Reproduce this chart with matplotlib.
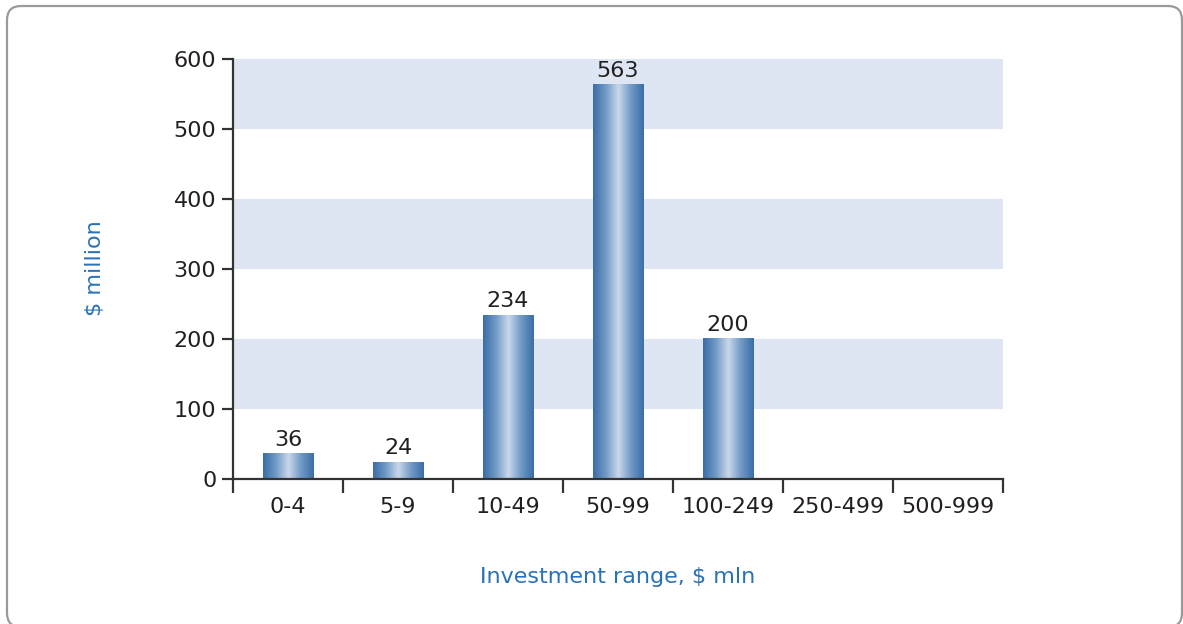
import numpy as np
import matplotlib.pyplot as plt
from matplotlib.patches import FancyBboxPatch
from matplotlib.colors import LinearSegmentedColormap

# data
categories = ["0-4", "5-9", "10-49", "50-99", "100-249", "250-499", "500-999"]
values = [36, 24, 234, 563, 200, 0, 0]
yticks = [0, 100, 200, 300, 400, 500, 600]

plt.rcParams['font.family'] = ['DejaVu Sans']

W, H = 1183, 624
fig = plt.figure(figsize=(W / 100, H / 100), dpi=100)

# rounded frame around the whole chart, drawn in pixel coordinates (y up)
bg = fig.add_axes([0, 0, 1, 1], zorder=-1)
bg.set_xlim(0, W)
bg.set_ylim(0, H)
bg.axis("off")
bg.add_patch(FancyBboxPatch((7, -3), 1175, H - 6 + 3,
                            boxstyle="round,pad=0,rounding_size=14",
                            fill=False, edgecolor="#9a9a9a", linewidth=1.6,
                            clip_on=False))

ax = fig.add_axes([233 / W, (H - 479) / H, 770 / W, 420 / H])
n = len(categories)
ax.set_xlim(0, n)
ax.set_ylim(0, 600)

# alternating background bands
for lo in (100, 300, 500):
    ax.axhspan(lo, lo + 100, color="#dfe6f3", zorder=0, lw=0)

# gradient bars
cmap = LinearSegmentedColormap.from_list(
    "bar", ["#3a6ea6", "#7099c6", "#cad7ea", "#7099c6", "#3a6ea6"])
grad = np.linspace(0, 1, 256).reshape(1, -1)
bw = 0.46
for i, v in enumerate(values):
    if v <= 0:
        continue
    x0 = i + 0.5 - bw / 2
    ax.imshow(grad, cmap=cmap, aspect="auto", extent=(x0, x0 + bw, 0, v),
              zorder=2, interpolation="bicubic")
    ax.text(i + 0.5, v + 6, str(v), ha="center", va="bottom",
            fontsize=16, color="#231f20")

for s in ("top", "right"):
    ax.spines[s].set_visible(False)
for s in ("left", "bottom"):
    ax.spines[s].set_color("#333333")
    ax.spines[s].set_linewidth(1.6)
    ax.spines[s].set_zorder(3)

ax.set_yticks(yticks)
ax.set_yticklabels([str(t) for t in yticks])
ax.set_xticks(np.arange(n + 1))
ax.set_xticklabels([])
ax.set_xticks(np.arange(n) + 0.5, minor=True)
ax.set_xticklabels(categories, minor=True)
ax.tick_params(axis="x", which="major", length=10, width=1.6, color="#333333", direction="out")
ax.tick_params(axis="x", which="minor", length=0, pad=13, labelsize=16, labelcolor="#231f20")
ax.tick_params(axis="y", length=8, width=1.6, color="#333333", pad=4,
               labelsize=16, labelcolor="#231f20")

fig.text(95 / W, 1 - 268 / H, "$ million", rotation=90, ha="center", va="center",
         fontsize=16, color="#2a72b8")
fig.text(618 / W, 1 - 577 / H, "Investment range, $ mln", ha="center", va="center",
         fontsize=16, color="#2a72b8")

fig.savefig("out.png", dpi=100)
